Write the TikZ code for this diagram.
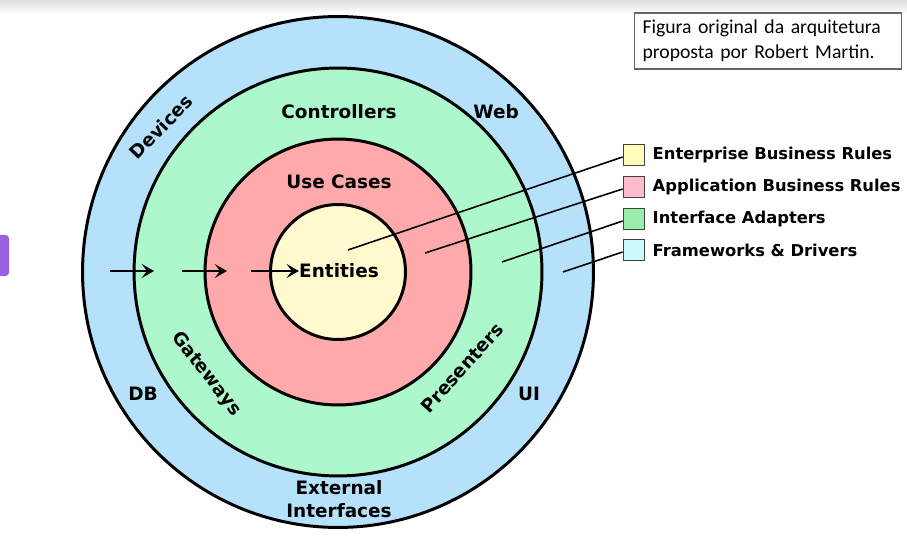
\documentclass[tikz,border=0pt]{standalone}
\usepackage{fontspec}
\setmainfont{DejaVu Sans}
\newfontfamily\notefont{Carlito}
\usepackage{xcolor}
\usetikzlibrary{arrows.meta}
\usetikzlibrary{positioning}

\definecolor{fwblue}{RGB}{181,226,250}
\definecolor{iagreen}{RGB}{172,247,203}
\definecolor{ucred}{RGB}{255,170,170}
\definecolor{entyellow}{RGB}{255,250,205}
\definecolor{keyyellow}{RGB}{255,255,187}
\definecolor{keypink}{RGB}{255,187,204}
\definecolor{keygreen}{RGB}{153,238,170}
\definecolor{keycyan}{RGB}{204,250,255}
\definecolor{tabviolet}{RGB}{150,98,222}

\begin{document}
\begin{tikzpicture}[x=0.02cm,y=-0.02cm,>={Stealth[length=7pt,width=8pt,inset=3pt]},
  ring/.style={circle,draw,line width=1.7pt,inner sep=0pt},
  layer name/.style={font=\bfseries\fontsize{10.5}{13}\selectfont,inner sep=0pt,align=center},
  key box/.style={rectangle,draw=black!75,line width=1pt,minimum size=0.42cm,inner sep=0pt},
  key text/.style={font=\bfseries\fontsize{9.3}{11}\selectfont,inner sep=0pt,anchor=west},
  pointer/.style={line width=0.9pt}]

  \useasboundingbox (0,0) rectangle (907,537);
  \fill[top color=black!13,bottom color=white] (0,0) rectangle (907,14);
  \fill[tabviolet,rounded corners=2pt] (-5,235) rectangle (9,276);

  % the four layers
  \node[ring,fill=fwblue,minimum size=10.22cm] (4) at (338,272) {};
  \node[ring,fill=iagreen,minimum size=8.16cm] (3) at (338,272) {};
  \node[ring,fill=ucred,minimum size=5.32cm] (2) at (338,272) {};
  \node[ring,fill=entyellow,minimum size=2.7cm] (1) at (338,272) {};

  \node[layer name] (ent) at (339,271) {Entities};
  \node[layer name] (uc) at (339,182) {Use Cases};
  \node[layer name] (ctl) at (339,112) {Controllers};
  \node[layer name,rotate=-52] (gw) at (206,374) {Gateways};
  \node[layer name,rotate=48] (pr) at (462,368) {Presenters};
  \node[layer name] (web) at (496,112) {Web};
  \node[layer name,rotate=46] (dev) at (161,127) {Devices};
  \node[layer name] (db) at (143,394) {DB};
  \node[layer name] (ui) at (529,394) {UI};
  \node[layer name] (ext) at (339,499) {External\\Interfaces};

  % dependency arrows
  \coordinate (a1) at (110,271);
  \coordinate (a2) at (154,271);
  \coordinate (b1) at (182,271);
  \coordinate (b2) at (227,271);
  \coordinate (c1) at (251,271);
  \coordinate (c2) at (ent.west);
  \draw[->,line width=1.5pt] (a1) -- (a2);
  \draw[->,line width=1.5pt] (b1) -- (b2);
  \draw[->,line width=1.5pt] (c1) -- (c2);

  % legend
  \node[key box,fill=keyyellow] (k1) at (634,155) {};
  \node[key box,fill=keypink] (k2) at (634,187) {};
  \node[key box,fill=keygreen] (k3) at (634,219) {};
  \node[key box,fill=keycyan] (k4) at (634,250) {};
  \node[key text,right=0.14cm of k1] (t1) {Enterprise Business Rules};
  \node[key text,right=0.14cm of k2] (t2) {Application Business Rules};
  \node[key text,right=0.14cm of k3] (t3) {Interface Adapters};
  \node[key text,right=0.14cm of k4] (t4) {Frameworks \& Drivers};

  \coordinate (p1) at (348,250);
  \coordinate (p2) at (425,253);
  \coordinate (p3) at (502,262);
  \coordinate (p4) at (563,272);
  \draw[pointer] (p1) -- (k1.190);
  \draw[pointer] (p2) -- (k2.190);
  \draw[pointer] (p3) -- (k3.190);
  \draw[pointer] (p4) -- (k4.190);

  % note box
  \node[draw=black!60,line width=0.8pt,fill=white,minimum width=5.34cm,minimum height=1.12cm,
    text width=5.02cm,inner xsep=0.16cm,align=left,font=\notefont\fontsize{11.2}{14}\selectfont]
    (note) at (768,41) {Figura original da arquitetura\\proposta por Robert Martin.};
\end{tikzpicture}
\end{document}
